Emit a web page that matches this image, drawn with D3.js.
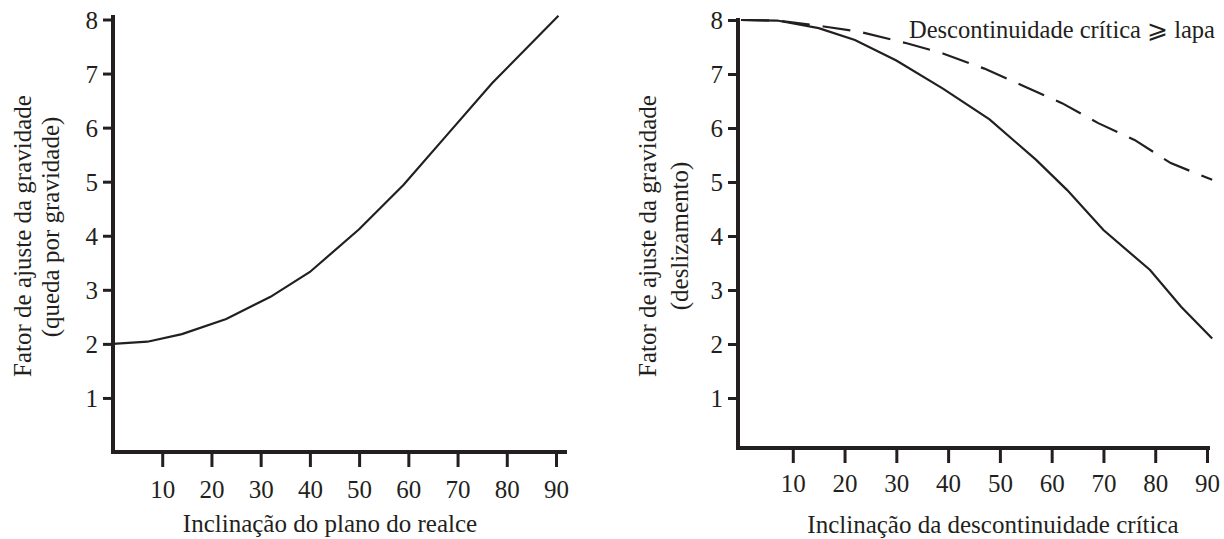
<!DOCTYPE html>
<html>
<head>
<meta charset="utf-8">
<script src="https://cdn.jsdelivr.net/npm/d3@7"></script>
<style>
  html, body { margin: 0; padding: 0; background: #fff; }
  svg { display: block; }
  text { font-family: "Liberation Serif", "Times New Roman", serif; fill: #231f20; }
</style>
</head>
<body>
<svg id="chart" width="1224" height="539"></svg>
<script>
// ---- Data ----
const xTicks = [10, 20, 30, 40, 50, 60, 70, 80, 90];
const yTicks = [1, 2, 3, 4, 5, 6, 7, 8];

// Left: gravity adjustment factor (gravity fall) vs. face inclination
const leftAngle  = [0, 7, 14, 23, 32, 40, 50, 59, 68, 77, 90.5];
const leftFactor = [2.0, 2.04, 2.18, 2.46, 2.87, 3.33, 4.12, 4.94, 5.88, 6.82, 8.07];

// Right: gravity adjustment factor (sliding) vs. critical discontinuity inclination
const slideAngle  = [0, 7, 15, 22, 30, 39, 48, 57, 63, 70, 79, 85, 91];
const slideFactor = [8.0, 7.99, 7.85, 7.63, 7.25, 6.73, 6.16, 5.41, 4.85, 4.11, 3.37, 2.69, 2.1];

const footwallAngle  = [0, 7, 16, 23, 32, 39, 47, 54, 62, 69, 76, 83, 91];
const footwallFactor = [8.0, 7.99, 7.88, 7.78, 7.57, 7.38, 7.1, 6.8, 6.46, 6.09, 5.78, 5.35, 5.04];

const leftXTitle  = "Inclinação do plano do realce";
const leftYTitle  = ["Fator de ajuste da gravidade", "(queda por gravidade)"];
const rightXTitle = "Inclinação da descontinuidade crítica";
const rightYTitle = ["Fator de ajuste da gravidade", "(deslizamento)"];
const legendText  = "Descontinuidade crítica ⩾ lapa";

// ---- Drawing ----
const svg = d3.select("#chart");
const ink = "#231f20";
const fs = 25;

function panel(cfg) {
  const g = svg.append("g");
  const x = d3.scaleLinear().domain([0, 90]).range(cfg.xRange);
  const y = d3.scaleLinear().domain([0, 8]).range(cfg.yRange);

  // y ticks
  const ya = g.append("g")
    .attr("transform", `translate(${cfg.yAxisX},0)`)
    .call(d3.axisLeft(y).tickValues(yTicks).tickSize(10).tickPadding(5).tickFormat(d3.format("d")));
  ya.select(".domain").remove();
  ya.selectAll(".tick line").attr("stroke", ink).attr("stroke-width", 3);
  ya.selectAll(".tick text").attr("font-size", fs).attr("font-family", "Liberation Serif").attr("fill", ink)
    .attr("dy", "0.35em");

  // x ticks
  const xa = g.append("g")
    .attr("transform", `translate(0,${cfg.xAxisY})`)
    .call(d3.axisBottom(x).tickValues(xTicks).tickSize(15).tickPadding(cfg.xPad).tickFormat(d3.format("d")));
  xa.select(".domain").remove();
  xa.selectAll(".tick line").attr("stroke", ink).attr("stroke-width", 3);
  xa.selectAll(".tick text").attr("font-size", fs).attr("font-family", "Liberation Serif").attr("fill", ink);

  // axis lines
  g.append("line").attr("x1", cfg.yAxisX).attr("x2", cfg.yAxisX)
    .attr("y1", cfg.yTop).attr("y2", cfg.xAxisY + 2)
    .attr("stroke", ink).attr("stroke-width", 4);
  g.append("line").attr("x1", cfg.yAxisX - 2).attr("x2", cfg.xEnd)
    .attr("y1", cfg.xAxisY).attr("y2", cfg.xAxisY)
    .attr("stroke", ink).attr("stroke-width", 4);

  // titles
  g.append("text").attr("x", cfg.xTitleX).attr("y", cfg.xTitleY)
    .attr("text-anchor", "middle").attr("font-size", fs).text(cfg.xTitle);
  cfg.yTitle.forEach((t, i) => {
    g.append("text")
      .attr("transform", `translate(${cfg.yTitleX[i]},${cfg.yTitleY[i]}) rotate(-90)`)
      .attr("text-anchor", "middle").attr("dy", "0.35em").attr("font-size", fs).text(t);
  });

  const line = d3.line().x(d => x(d[0])).y(d => y(d[1]));
  cfg.series.forEach(s => {
    g.append("path")
      .datum(d3.zip(s.x, s.y))
      .attr("fill", "none").attr("stroke", ink).attr("stroke-width", 2.2)
      .attr("stroke-dasharray", s.dash || null)
      .attr("d", line);
  });
  return { g, x, y };
}

panel({
  xRange: [113, 556], yRange: [452, 19.5],
  yAxisX: 113, yTop: 15, xAxisY: 452, xEnd: 567, xPad: 13,
  xTitle: leftXTitle, xTitleX: 330, xTitleY: 532,
  yTitle: leftYTitle, yTitleX: [22, 50], yTitleY: [236, 227],
  series: [{ x: leftAngle, y: leftFactor }]
});

panel({
  xRange: [741, 1207], yRange: [452, 20],
  yAxisX: 738, yTop: 18, xAxisY: 448, xEnd: 1210, xPad: 11,
  xTitle: rightXTitle, xTitleX: 993, xTitleY: 533,
  yTitle: rightYTitle, yTitleX: [647, 679], yTitleY: [236, 236],
  series: [
    { x: slideAngle, y: slideFactor },
    { x: footwallAngle, y: footwallFactor, dash: "28,13" }
  ]
});

svg.append("text").attr("x", 1215).attr("y", 38).attr("text-anchor", "end")
  .attr("font-size", 24.5).text(legendText);
</script>
</body>
</html>
